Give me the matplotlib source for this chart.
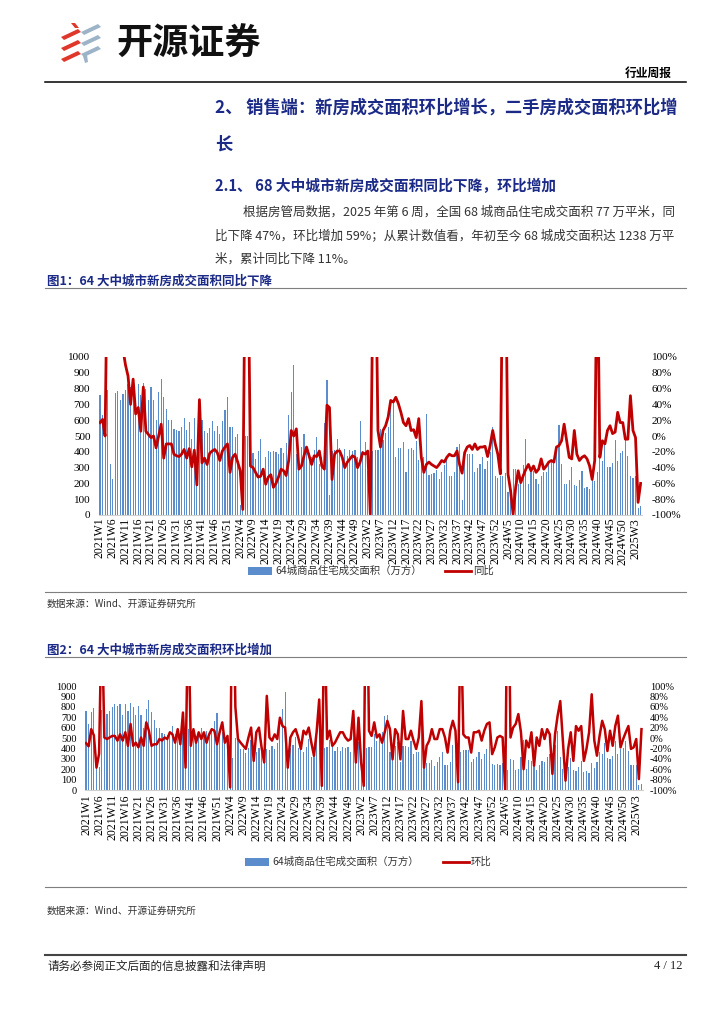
import matplotlib
matplotlib.use('Agg')
import matplotlib.pyplot as plt
from matplotlib.patches import Rectangle, Polygon
from matplotlib.lines import Line2D
import numpy as np

plt.rcParams['font.family'] = ['Noto Sans CJK SC', 'DejaVu Sans']

# ── Data ────────────────────────────────────────────────────────────────────
years = [2021, 2022, 2023, 2024, 2025]
weeks_per_year = [52, 52, 52, 52, 5]

# 64城商品住宅成交面积（万方）
area_2021 = [760, 636, 750, 788, 322, 225, 771, 782, 731, 763,
             794, 830, 809, 830, 720, 830, 760, 837, 800, 725,
             807, 725, 600, 780, 862, 746, 672, 600, 600, 545,
             540, 530, 555, 612, 540, 587, 480, 617, 270, 587,
             600, 534, 520, 551, 597, 534, 563, 513, 597, 667,
             744, 560]
area_2022 = [560, 492, 513, 61, 311, 500, 502, 390, 390, 354,
             407, 481, 280, 364, 407, 400, 407, 396, 386, 424,
             392, 455, 636, 780, 947, 386, 407, 428, 513, 407,
             394, 364, 413, 492, 322, 364, 580, 856, 125, 407,
             413, 481, 424, 379, 417, 375, 413, 407, 413, 364,
             593, 407]
area_2023 = [460, 280, 36, 407, 411, 411, 542, 475, 517, 560,
             714, 725, 364, 424, 424, 464, 269, 419, 424, 413,
             470, 347, 369, 369, 640, 254, 258, 263, 286, 229,
             273, 316, 364, 244, 244, 269, 428, 449, 95, 364,
             386, 388, 386, 269, 299, 322, 364, 294, 343, 396,
             555, 248]
area_2024 = [237, 248, 244, 263, 148, 195, 294, 290, 195, 205,
             318, 481, 199, 290, 280, 227, 195, 244, 275, 269,
             322, 343, 354, 428, 572, 322, 199, 195, 220, 305,
             191, 184, 220, 280, 174, 180, 167, 258, 216, 269,
             364, 343, 449, 305, 301, 328, 475, 343, 392, 402,
             475, 375]
area_2025 = [244, 237, 244, 47, 57]

# 同比 (%)
yoy_2021 = [17, 21, 0, 250, 300, 300, 300, 250, 200, 110,
            90, 76, 40, 72, 28, 36, 6, 62, 6, 2,
            -2, 0, -15, 0, 15, -28, -10, -10, -10, -23,
            -25, -26, -23, -17, -28, -16, -39, -18, -62, 46,
            -34, -28, -36, -22, -19, -17, -21, -31, -19, -14,
            -10, -46]
yoy_2022 = [-27, -23, -33, -44, -93, 250, 250, -38, -40, -46,
            -52, -51, -42, -61, -52, -49, -65, -60, -52, -42,
            -44, -50, -31, 7, 0, 9, -42, -38, -25, -14,
            -25, -36, -25, -26, -19, -38, -42, 39, 36, -55,
            -23, -19, -19, -27, -40, -33, -29, -25, -27, -40,
            -33, -21]
yoy_2023 = [-23, -19, -99, 180, 250, 7, -14, 7, 13, 24,
            45, 43, 49, 41, 30, 17, 13, 22, 7, 8,
            -2, 22, -27, -46, -36, -33, -36, -38, -40, -36,
            -31, -33, -27, -23, -25, -25, -19, -36, -47, -21,
            -14, -12, -17, -10, -17, -14, -14, -13, -26, -12,
            7, -10]
yoy_2024 = [-23, -48, 250, 250, -48, -69, -99, -65, -44, -59,
            -50, -42, -36, -44, -38, -46, -42, -29, -42, -38,
            -33, -31, -33, -14, -12, -6, 15, -6, -27, -29,
            7, -23, -31, -27, -25, -29, -38, -55, -31, 250,
            -27, -6, -10, 7, 13, 3, 5, 30, 17, 17,
            -4, -4]
yoy_2025 = [51, 7, -2, -84, -60]

# 环比 (%)
wow_2021 = [-10, -16, 17, 5, -57, -30, 250, 1, -2, 1,
            4, 4, -5, 7, -5, 11, -15, 27, -15, -9,
            -18, 1, -15, 30, 14, -15, -12, -12, -2, -5,
            1, -2, 11, 7, -9, 17, -12, 49, -57, 250,
            -15, 17, -9, 11, -2, 11, -9, 7, 17, 14,
            -12, 11]
wow_2022 = [30, -9, 4, -95, 400, 60, -2, -9, -15, -21,
            1, 20, -44, 11, 20, -18, -47, 81, 1, -5,
            7, -2, 39, 23, 20, -57, 1, 11, 17, 1,
            -21, 14, 7, 20, -9, -34, 11, 74, -92, 250,
            -2, 14, -15, -9, 1, 11, 11, 1, -5, -2,
            52, -47]
wow_2023 = [39, -47, -92, 400, 14, 4, 30, 1, 7, -9,
            11, 33, 17, -41, 17, 7, -41, 52, -2, -2,
            14, -5, -21, 1, 71, -57, -15, -5, 17, -2,
            -2, 17, 17, 1, -28, 14, 33, 14, -85, 250,
            7, 1, 1, -28, 11, 11, 14, -5, 14, 27,
            30, -31]
wow_2024 = [-18, 1, 4, 1, -100, 400, 1, 20, 27, 46,
            11, -60, -5, -18, 11, -53, 1, -15, 17, -2,
            17, 7, -69, 7, 43, 71, -5, -82, -21, 11,
            -44, 23, 14, 23, -44, -21, 11, 84, -5, -34,
            4, 33, 17, -25, 14, -15, 23, 43, -18, -2,
            11, 23]
wow_2025 = [-21, -18, -2, -79, 17]

area = area_2021 + area_2022 + area_2023 + area_2024 + area_2025
yoy = yoy_2021 + yoy_2022 + yoy_2023 + yoy_2024 + yoy_2025
wow = wow_2021 + wow_2022 + wow_2023 + wow_2024 + wow_2025
week_labels = [f'{y}W{w}' for y, n in zip(years, weeks_per_year) for w in range(1, n + 1)]

bar_name = '64城商品住宅成交面积（万方）'

# ── Page helpers (pixel -> figure coords) ──────────────────────────────────
W, H = 724, 1024
def fx(x):
    return x / W
def fy(y):
    return 1 - y / H

NAVY = '#1B2A86'
BAR = '#5B8CCB'
RED = '#C00000'
SERIF = ['Liberation Serif', 'DejaVu Serif']

fig = plt.figure(figsize=(W / 100, H / 100), dpi=100)
fig.patch.set_facecolor('white')

def hline(y, x0=45, x1=686, color='#7F7F7F', lw=0.8):
    fig.add_artist(Line2D([fx(x0), fx(x1)], [fy(y), fy(y)], color=color, lw=lw))

def poly(pts, color):
    fig.add_artist(Polygon([(fx(a), fy(b)) for a, b in pts], closed=True, color=color, lw=0))

# ── Header / logo ───────────────────────────────────────────────────────────
LOGO_RED = '#E0372B'
LOGO_BLUE = '#9DB4C8'
poly([(71, 23), (75, 23), (79, 28), (75, 28)], LOGO_RED)
for yc in [34, 45, 56]:
    poly([(61, yc + 3), (78, yc - 5), (81, yc - 2), (64, yc + 6)], LOGO_RED)
for yc in [29, 40, 51]:
    poly([(81, yc + 3), (98, yc - 5), (101, yc - 2), (84, yc + 6)], LOGO_BLUE)
poly([(83, 56), (87, 55), (88, 62), (85, 63)], LOGO_BLUE)
fig.text(fx(116), fy(44), '开源证券', fontsize=26, fontweight='bold', color='#111111',
         ha='left', va='center')
fig.text(fx(672), fy(73), '行业周报', fontsize=8.5, fontweight='bold', ha='right', va='center')
hline(82, color='black', lw=1.1)

# ── Section text ────────────────────────────────────────────────────────────
fig.text(fx(215), fy(108), '2、 销售端：新房成交面积环比增长，二手房成交面积环比增',
         fontsize=12.4, fontweight='bold', color=NAVY, ha='left', va='center')
fig.text(fx(215), fy(145), '长', fontsize=12.4, fontweight='bold', color=NAVY,
         ha='left', va='center')
fig.text(fx(215), fy(186), '2.1、 68 大中城市新房成交面积同比下降，环比增加',
         fontsize=10.6, fontweight='bold', color=NAVY, ha='left', va='center')

body = ['根据房管局数据，2025 年第 6 周，全国 68 城商品住宅成交面积 77 万平米，同',
        '比下降 47%，环比增加 59%；从累计数值看，年初至今 68 城成交面积达 1238 万平',
        '米，累计同比下降 11%。']
body_x = [243, 215, 215]
body_y = [212, 236, 259]
for s, x, y in zip(body, body_x, body_y):
    fig.text(fx(x), fy(y), s, fontsize=9, color='#333333', ha='left', va='center')

# ── Charts ──────────────────────────────────────────────────────────────────
def draw_chart(x0, x1, top, bottom, line_vals, ytick_fs, pads, lw):
    ax = fig.add_axes([fx(x0), fy(bottom), (x1 - x0) / W, (bottom - top) / H])
    x = np.arange(len(area))
    ax.bar(x, area, width=0.45, color=BAR, lw=0, zorder=1)
    ax.set_xlim(-0.5, len(area) - 0.5)
    ax.set_ylim(0, 1000)
    ax.set_yticks(range(0, 1001, 100))
    ax.set_yticklabels([str(v) for v in range(0, 1001, 100)], family=SERIF, fontsize=ytick_fs)
    ax.set_xticks(x[::5])
    ax.set_xticklabels(week_labels[::5], rotation=90, family=SERIF, fontsize=8.5,
                       ha='center', va='top')
    ax.tick_params(axis='y', length=0, pad=pads[0])
    ax.tick_params(axis='x', length=0, pad=pads[2])
    for side in ['top', 'left', 'right']:
        ax.spines[side].set_visible(False)
    ax.spines['bottom'].set_color('#D0D0D0')
    ax.spines['bottom'].set_linewidth(0.8)
    ax.patch.set_alpha(0)

    ax2 = ax.twinx()
    ax2.plot(x, line_vals, color=RED, lw=lw, solid_joinstyle='round', zorder=3)
    ax2.set_ylim(-100, 100)
    ticks = list(range(-100, 101, 20))
    ax2.set_yticks(ticks)
    ax2.set_yticklabels([f'{v}%' for v in ticks], family=SERIF, fontsize=ytick_fs)
    ax2.tick_params(axis='y', length=0, pad=pads[1])
    for side in ['top', 'left', 'right', 'bottom']:
        ax2.spines[side].set_visible(False)
    return ax, ax2

def legend(y, rect_x, text_x, line_x, name_x, line_name):
    fig.add_artist(Rectangle((fx(rect_x), fy(y + 4)), 24 / W, 8 / H, color=BAR, lw=0))
    fig.text(fx(text_x), fy(y), bar_name, fontsize=7.5, ha='left', va='center', color='#333333')
    fig.add_artist(Line2D([fx(line_x), fx(line_x + 26)], [fy(y), fy(y)], color=RED, lw=2))
    fig.text(fx(name_x), fy(y), line_name, fontsize=7.5, ha='left', va='center', color='#333333')

# Figure 1
fig.text(fx(47), fy(281), '图1：64 大中城市新房成交面积同比下降', fontsize=9, fontweight='bold',
         color=NAVY, ha='left', va='center')
hline(288)
draw_chart(98.7, 641.9, 357, 515, yoy, 8, (6, 7, 2), 2.0)
legend(571, 248, 275, 445, 473, '同比')
hline(592)
fig.text(fx(47), fy(604), '数据来源：Wind、开源证券研究所', fontsize=7, color='#333333',
         ha='left', va='center')

# Figure 2
fig.text(fx(47), fy(650), '图2：64 大中城市新房成交面积环比增加', fontsize=9, fontweight='bold',
         color=NAVY, ha='left', va='center')
hline(657)
draw_chart(84.7, 642.8, 686, 790, wow, 7.5, (6, 5, 3), 1.8)
legend(862, 245, 272, 443, 471, '环比')
hline(887)
fig.text(fx(47), fy(911), '数据来源：Wind、开源证券研究所', fontsize=7, color='#333333',
         ha='left', va='center')

# ── Footer ──────────────────────────────────────────────────────────────────
hline(955, color='#444444', lw=1.5)
fig.text(fx(47), fy(966), '请务必参阅正文后面的信息披露和法律声明', fontsize=8.3, color='#222222',
         ha='left', va='center')
fig.text(fx(683), fy(966), '4 / 12', fontsize=9, family=SERIF, color='#222222',
         ha='right', va='center')

fig.savefig('out.png', dpi=100, facecolor='white')
